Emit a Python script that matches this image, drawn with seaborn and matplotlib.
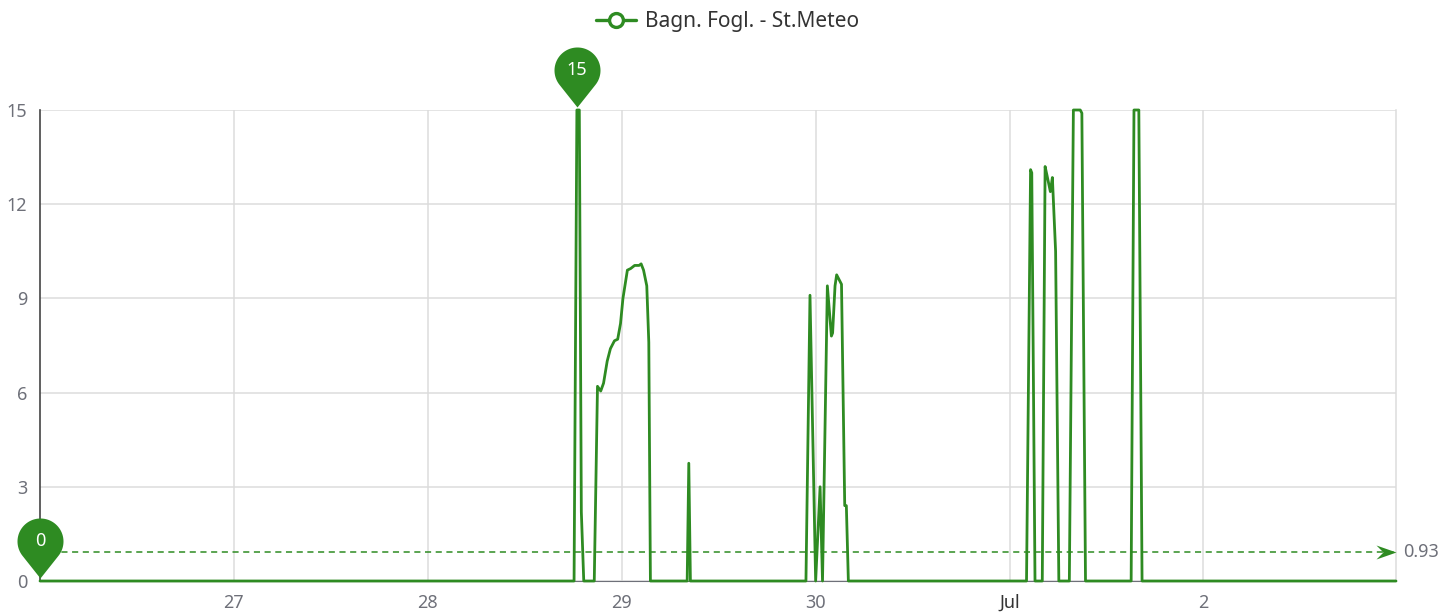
import numpy as np
import pandas as pd
import matplotlib
matplotlib.use("Agg")
import matplotlib.pyplot as plt
from matplotlib.path import Path
from matplotlib.lines import Line2D
import seaborn as sns

# --- data ---
series_name = "Bagn. Fogl. - St.Meteo"
start = pd.Timestamp("2024-06-26 00:00")
# hours since start -> leaf wetness value
hours = [0, 66.1, 66.45, 66.75, 67.0, 67.3, 68.6, 69.0, 69.4, 69.75, 70.2, 70.6,
         71.1, 71.5, 71.85, 72.15, 72.7, 73.1, 73.6, 74.15, 74.4, 74.7, 75.1,
         75.35, 75.55, 80.1, 80.3, 80.5, 94.8, 95.3, 96.0, 96.55, 96.85, 97.45,
         97.95, 98.1, 98.4, 98.6, 99.0, 99.2, 99.6, 99.8, 100.05, 122.1, 122.6,
         122.75, 123.15, 124.05, 124.4, 124.65, 125.05, 125.3, 125.7, 126.1,
         127.4, 127.9, 128.75, 128.95, 129.4, 135.05, 135.4, 136.0, 136.4, 167.83]
values = [0, 0, 15, 15, 2.2, 0, 0, 6.2, 6.05, 6.3, 7.0, 7.4,
          7.65, 7.7, 8.2, 9.0, 9.9, 9.95, 10.05, 10.05, 10.1, 9.9, 9.4,
          7.6, 0, 0, 3.75, 0, 0, 9.1, 0, 3.0, 0, 9.4,
          7.8, 7.9, 9.4, 9.75, 9.55, 9.45, 2.4, 2.4, 0, 0, 13.1,
          13.0, 0, 0, 13.2, 12.9, 12.4, 12.85, 10.5, 0,
          0, 15, 15, 14.9, 0, 0, 15, 15, 0, 0]
mean_value = 0.93
day_ticks = ["2024-06-27", "2024-06-28", "2024-06-29", "2024-06-30", "2024-07-01", "2024-07-02"]
day_labels = ["27", "28", "29", "30", "Jul", "2"]
y_ticks = [0, 3, 6, 9, 12, 15]

GREEN = "#2E8B22"
GRAY = "#6E7079"

df = pd.DataFrame({"time": start + pd.to_timedelta(hours, unit="h"), "value": values})

sns.set_style("white")
plt.rcParams["font.family"] = ["Noto Sans", "DejaVu Sans"]

fig = plt.figure(figsize=(14.56, 6.14), dpi=100)
ax = fig.add_axes([40 / 1456, 33 / 614, 1356 / 1456, 471 / 614])

sns.lineplot(data=df, x="time", y="value", ax=ax, color=GREEN, linewidth=2.0,
             clip_on=False, zorder=5)

ax.set_xlim(df["time"].iloc[0], df["time"].iloc[-1])
ax.set_ylim(0, 15)
ax.set_xlabel("")
ax.set_ylabel("")

# grid
ax.set_yticks(y_ticks)
ax.set_xticks(pd.to_datetime(day_ticks))
ax.set_xticklabels(day_labels)
ax.grid(True, color="#DCDCDC", linewidth=1.1)
ax.set_axisbelow(True)
for lbl in ax.get_xticklabels():
    if lbl.get_text() == "Jul":
        lbl.set_fontweight("bold")
        lbl.set_color("#333333")
    else:
        lbl.set_color(GRAY)
for lbl in ax.get_yticklabels():
    lbl.set_color(GRAY)
ax.tick_params(axis="x", length=4, width=1, color=GRAY, labelsize=13, pad=5, direction="out")
ax.tick_params(axis="y", length=4, width=1, color="#444444", labelsize=13, pad=5, direction="out")

ax.spines["top"].set_visible(False)
ax.spines["left"].set_color("#444444")
ax.spines["left"].set_linewidth(1.2)
ax.spines["bottom"].set_color(GRAY)
ax.spines["right"].set_color("#DCDCDC")
ax.spines["right"].set_linewidth(1.1)

# mean line with arrow
t0, t1 = df["time"].iloc[0], df["time"].iloc[-1]
ax.plot([t0, t1], [mean_value, mean_value], color=GREEN, linewidth=1.1,
        linestyle=(0, (4, 3)), zorder=4)
arrow = Path([(0, 0), (-20, 7), (-13, 0), (-20, -7), (0, 0)],
             [Path.MOVETO, Path.LINETO, Path.LINETO, Path.LINETO, Path.CLOSEPOLY])
ax.plot([t1], [mean_value], marker=arrow, markersize=40 / 1.389, color=GREEN,
        markeredgewidth=0, clip_on=False, zorder=6)
ax.annotate(f"{mean_value:.2f}", xy=(t1, mean_value), xytext=(7, 0), textcoords="offset pixels",
            ha="left", va="center", color=GRAY, fontsize=13, annotation_clip=False)

# pin markers for min / max
c, r, lift = 37.0, 23.0, 3.0
phi = np.arccos(r / c)
angs = np.linspace(-np.pi / 2 + phi, 3 * np.pi / 2 - phi, 60)
arc = np.column_stack([r * np.cos(angs), c + r * np.sin(angs)])
verts = np.vstack([[0, 0], arc, [0, 0]]) + [0, lift]
pin = Path(verts, [Path.MOVETO] + [Path.LINETO] * (len(verts) - 2) + [Path.CLOSEPOLY])
pin_ms = 2 * (c + r + lift) / 1.389

vals = np.array(values)
for idx in [int(np.argmin(vals)), int(np.argmax(vals))]:
    t, v = df["time"].iloc[idx], values[idx]
    ax.plot([t], [v], marker=pin, markersize=pin_ms, color=GREEN, markeredgewidth=0,
            clip_on=False, zorder=7)
    ax.annotate(f"{v:g}", xy=(t, v), xytext=(0, c + lift), textcoords="offset pixels",
                ha="center", va="center", color="white", fontsize=13, zorder=8,
                annotation_clip=False)

# legend
handle = Line2D([], [], color=GREEN, linewidth=2.4, marker="o", markersize=10,
                markerfacecolor="white", markeredgewidth=2.4)
fig.legend([handle], [series_name], loc="upper center", bbox_to_anchor=(0.5, 1.012),
           frameon=False, fontsize=15, handlelength=1.9, handletextpad=0.45,
           labelcolor="#333333")

fig.savefig("out.png", dpi=100)
